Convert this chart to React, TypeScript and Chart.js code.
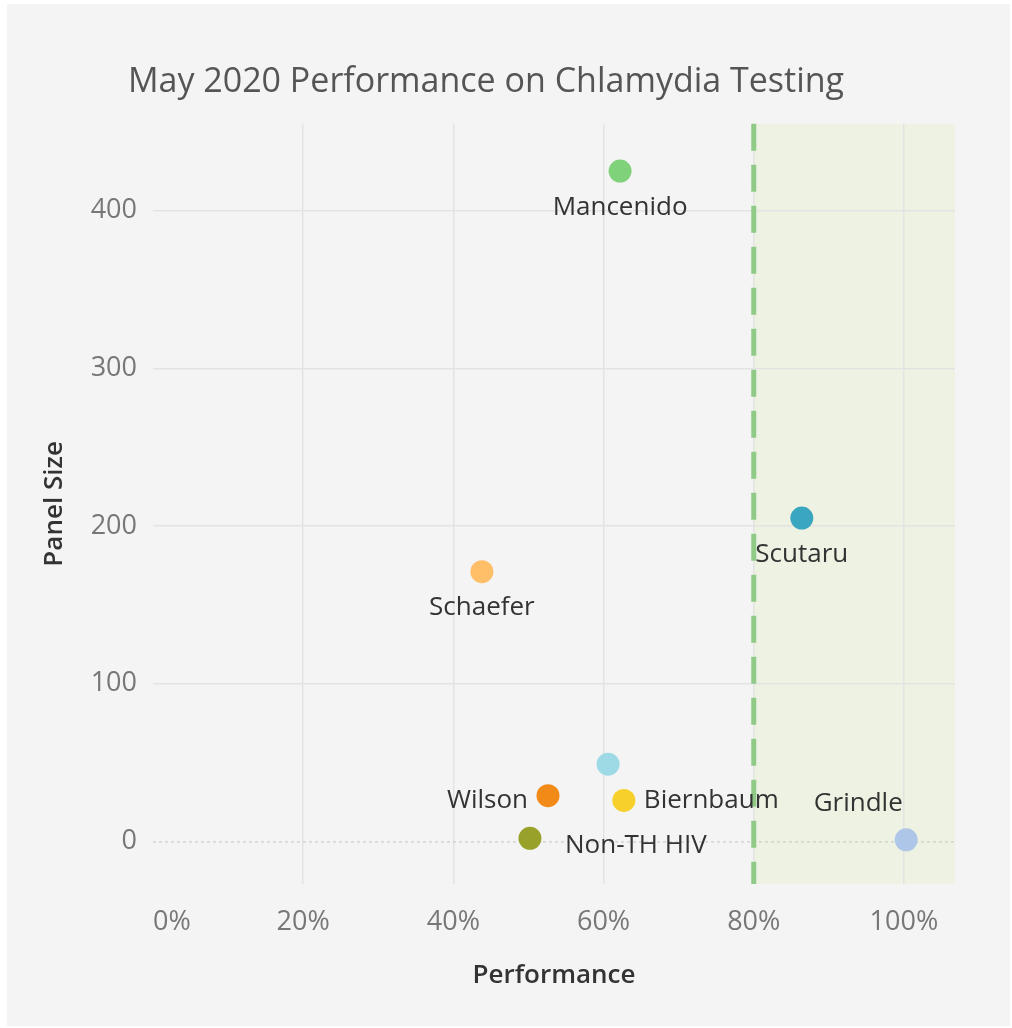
import React, { useEffect, useRef } from "react";
import { Chart, registerables } from "chart.js";

Chart.register(...registerables);

const titleText = "May 2020 Performance on Chlamydia Testing";
const xAxisTitle = "Performance";
const yAxisTitle = "Panel Size";

const names = ["Mancenido", "Scutaru", "Schaefer", "", "Wilson", "Biernbaum", "Non-TH HIV", "Grindle"];
const performance = [0.622, 0.864, 0.438, 0.606, 0.526, 0.627, 0.502, 1.003];
const panelSize = [425, 205, 171, 49, 29, 26, 2, 1];
const colors = ["#7fd17a", "#3aa6bf", "#ffbf69", "#9edae5", "#f28a17", "#f8d02c", "#98a22a", "#aec7e8"];
const labelPlacement = ["below", "below", "below", "none", "left", "right", "rightBelow", "aboveLeft"];

const targetValue = 0.8;
const xTickValues = [0, 0.2, 0.4, 0.6, 0.8, 1.0];
const yTickValues = [0, 100, 200, 300, 400];

const FONT = "'Open Sans', 'Noto Sans', sans-serif";

const decorPlugin = {
  id: "decor",
  beforeDraw(chart: any) {
    const { ctx, width, height, chartArea, scales } = chart;
    ctx.save();
    ctx.fillStyle = "#ffffff";
    ctx.fillRect(0, 0, width, height);
    ctx.fillStyle = "#f4f4f4";
    ctx.fillRect(7, 4, 1003, 1022);
    const x80 = scales.x.getPixelForValue(targetValue);
    ctx.fillStyle = "#eef2e3";
    ctx.fillRect(x80, chartArea.top, chartArea.right - x80, chartArea.bottom - chartArea.top);
    ctx.restore();
  },
  beforeDatasetsDraw(chart: any) {
    const { ctx, chartArea, scales } = chart;
    ctx.save();
    const y0 = scales.y.getPixelForValue(0);
    ctx.strokeStyle = "#c4c4c4";
    ctx.lineWidth = 1;
    ctx.setLineDash([3, 3]);
    ctx.beginPath();
    ctx.moveTo(chartArea.left, y0 + 0.5);
    ctx.lineTo(chartArea.right, y0 + 0.5);
    ctx.stroke();
    const x80 = scales.x.getPixelForValue(targetValue);
    ctx.strokeStyle = "#8fcb87";
    ctx.lineWidth = 5;
    ctx.setLineDash([27, 14]);
    ctx.lineCap = "butt";
    ctx.beginPath();
    ctx.moveTo(x80, chartArea.top);
    ctx.lineTo(x80, chartArea.bottom);
    ctx.stroke();
    ctx.restore();
  },
  afterDatasetsDraw(chart: any) {
    const { ctx } = chart;
    const meta = chart.getDatasetMeta(0);
    ctx.save();
    ctx.font = `26px ${FONT}`;
    ctx.fillStyle = "#333333";
    ctx.textBaseline = "middle";
    meta.data.forEach((pt: any, i: number) => {
      const name = names[i];
      const p = labelPlacement[i];
      if (!name || p === "none") return;
      const { x, y } = pt;
      if (p === "below") {
        ctx.textAlign = "center";
        ctx.fillText(name, x, y + 36);
      } else if (p === "left") {
        ctx.textAlign = "right";
        ctx.fillText(name, x - 20, y + 5);
      } else if (p === "right") {
        ctx.textAlign = "left";
        ctx.fillText(name, x + 20, y);
      } else if (p === "rightBelow") {
        ctx.textAlign = "left";
        ctx.fillText(name, x + 35, y + 7);
      } else if (p === "aboveLeft") {
        ctx.textAlign = "center";
        ctx.fillText(name, x - 48, y - 36);
      }
    });
    ctx.restore();
  },
};

export default function App() {
  const ref = useRef<HTMLCanvasElement>(null);
  useEffect(() => {
    if (!ref.current) return;
    const chart = new Chart(ref.current, {
      type: "scatter",
      data: {
        datasets: [
          {
            data: performance.map((v, i) => ({ x: v, y: panelSize[i] })),
            backgroundColor: colors,
            borderColor: colors,
            pointRadius: 11.5,
            pointHoverRadius: 11.5,
            borderWidth: 0,
          },
        ],
      },
      options: {
        animation: false,
        responsive: false,
        devicePixelRatio: 1,
        layout: { padding: { left: 17, right: 57, top: 0, bottom: 0 } },
        plugins: {
          legend: { display: false },
          tooltip: { enabled: false },
          title: {
            display: true,
            text: titleText,
            color: "#555555",
            font: { family: FONT, size: 34, weight: "normal" as any, lineHeight: 1.2 },
            padding: { top: 62, bottom: 21 },
          },
        },
        scales: {
          x: {
            type: "linear",
            min: 0,
            max: 1.068,
            afterBuildTicks: (scale: any) => {
              scale.ticks = [...xTickValues.map((v) => ({ value: v })), { value: 1.068 }];
            },
            afterFit: (scale: any) => {
              scale.height = 144;
            },
            ticks: {
              autoSkip: false,
              maxRotation: 0,
              align: "inner",
              padding: 22,
              color: "#777777",
              font: { family: FONT, size: 27 },
              callback: (v: any) => (Number(v) > 1.01 ? "" : `${Math.round(Number(v) * 100)}%`),
            },
            grid: {
              drawTicks: false,
              color: (c: any) => (c.tick && (c.tick.value === 0 || c.tick.value > 1.01) ? "rgba(0,0,0,0)" : "#e3e3e3"),
              lineWidth: 1.5,
            },
            border: { display: false },
            title: {
              display: true,
              text: xAxisTitle,
              color: "#333333",
              font: { family: FONT, size: 26, weight: "600" as any, lineHeight: 1.2 },
              padding: { top: 0, bottom: 37 },
            },
          },
          y: {
            type: "linear",
            min: -27,
            max: 455,
            afterBuildTicks: (scale: any) => {
              scale.ticks = yTickValues.map((v) => ({ value: v }));
            },
            afterFit: (scale: any) => {
              scale.width = 136;
            },
            ticks: {
              autoSkip: false,
              padding: 16,
              color: "#777777",
              font: { family: FONT, size: 27 },
              callback: (v: any) => `${v}`,
            },
            grid: {
              drawTicks: false,
              color: (c: any) => (c.tick && c.tick.value === 0 ? "rgba(0,0,0,0)" : "#e3e3e3"),
              lineWidth: 1.5,
            },
            border: { display: false },
            title: {
              display: true,
              text: yAxisTitle,
              color: "#333333",
              font: { family: FONT, size: 26, weight: "600" as any, lineHeight: 1.2 },
              padding: { top: 22, bottom: 0 },
            },
          },
        },
      },
      plugins: [decorPlugin],
    });
    return () => chart.destroy();
  }, []);
  return (
    <div style={{ position: "fixed", left: 0, top: 0, width: 1012, height: 1028 }}>
      <canvas ref={ref} width={1012} height={1028} style={{ width: 1012, height: 1028, display: "block" }} />
    </div>
  );
}
